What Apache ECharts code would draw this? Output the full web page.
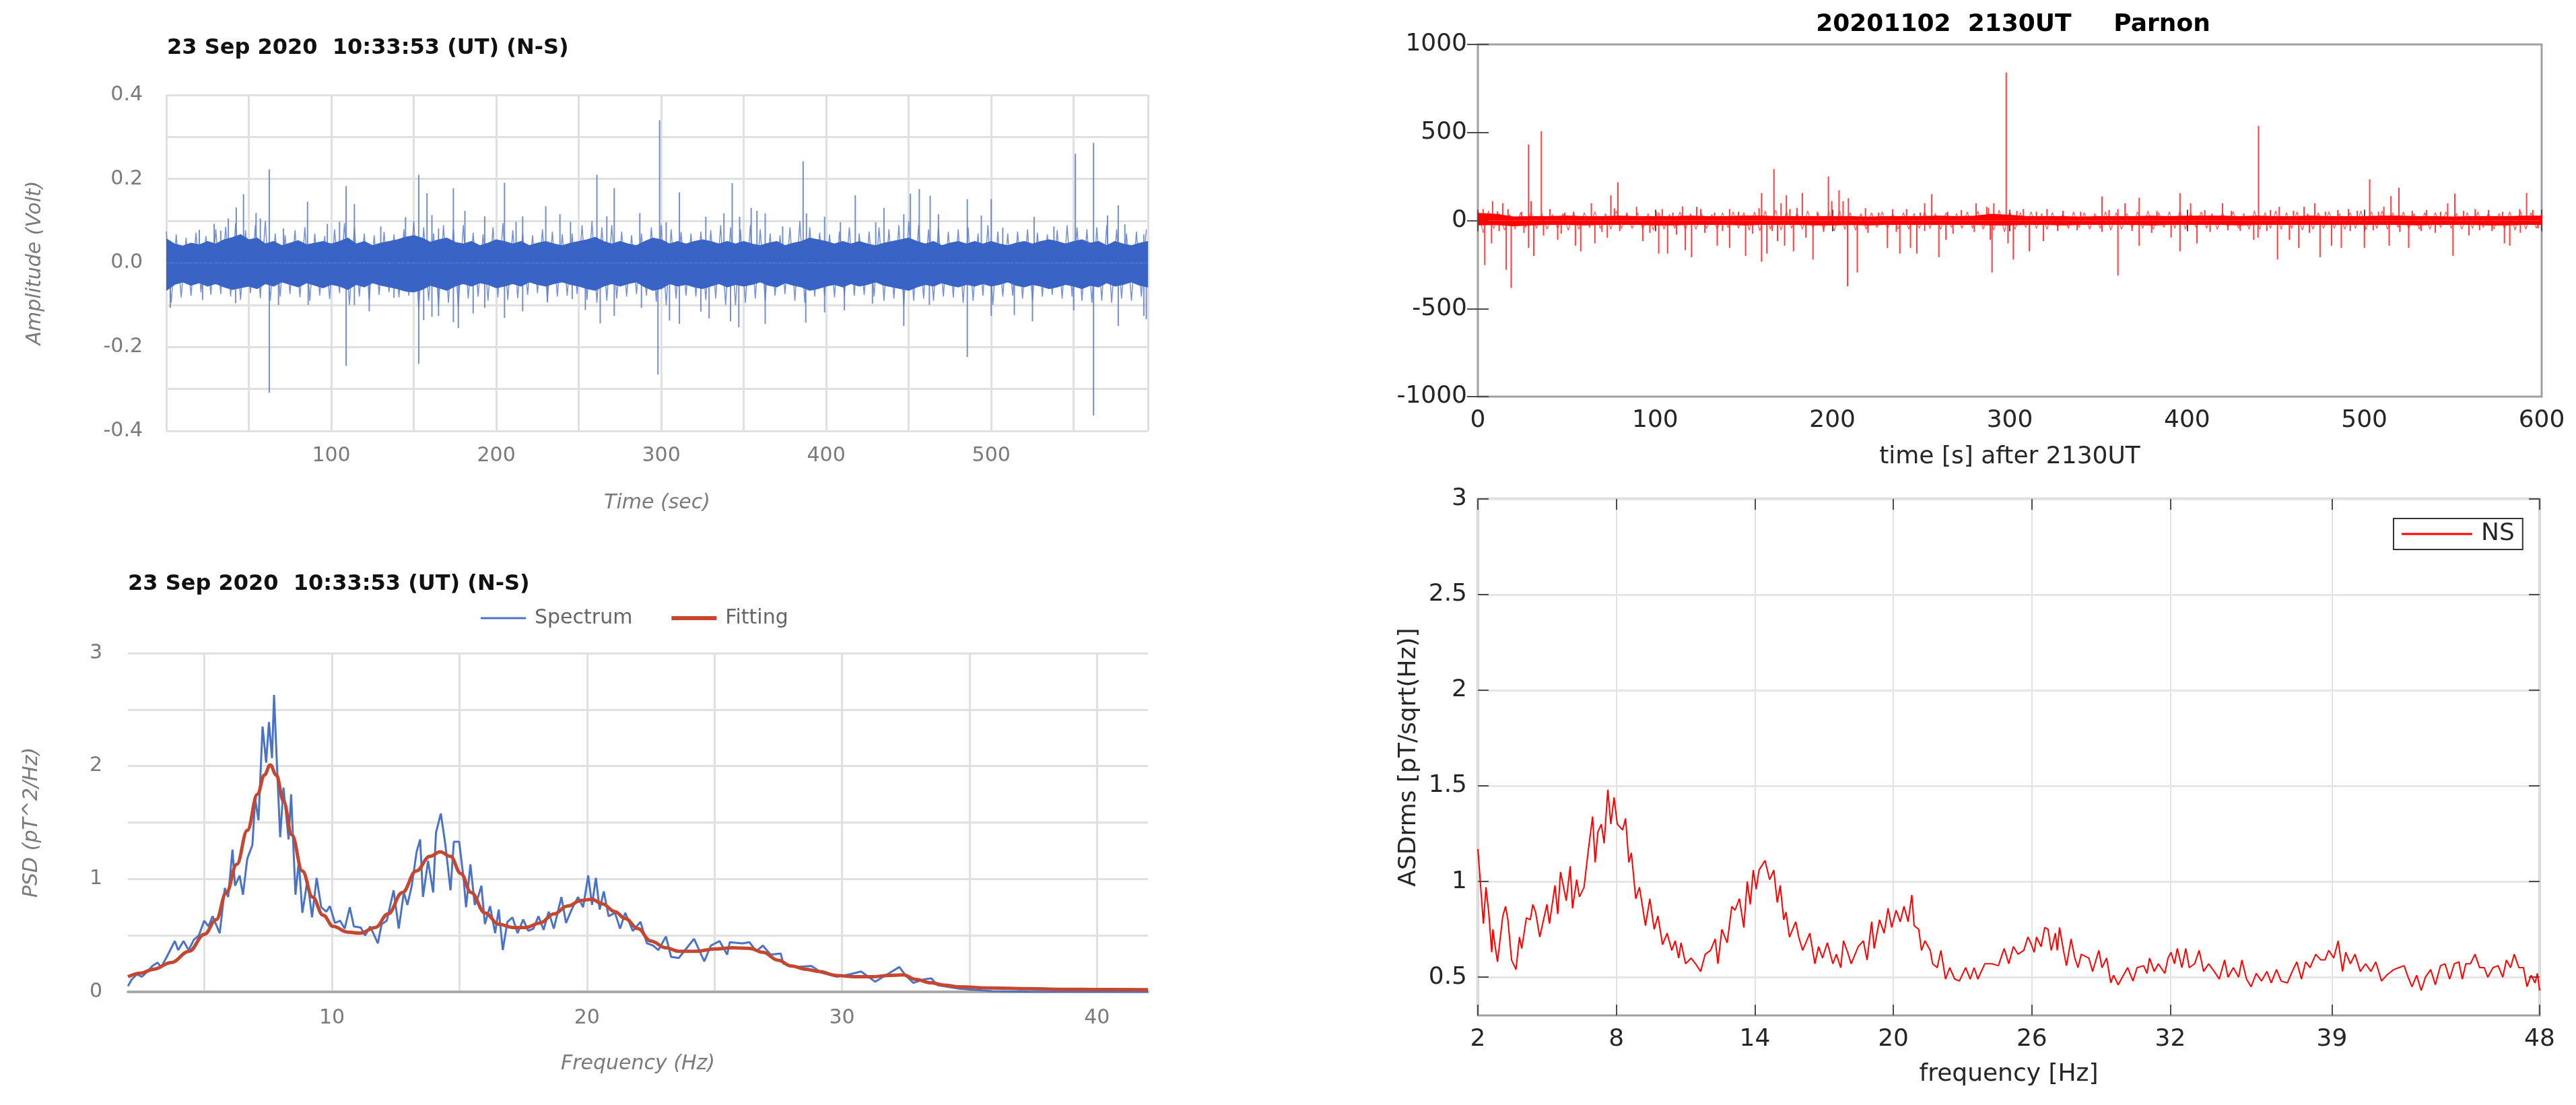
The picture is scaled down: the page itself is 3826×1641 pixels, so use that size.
<!DOCTYPE html>
<html>
<head>
<meta charset="utf-8">
<script src="https://cdn.jsdelivr.net/npm/echarts@6/dist/echarts.min.js"></script>
<style>html,body{margin:0;padding:0;background:#fff}#c{width:3826px;height:1641px}</style>
</head>
<body>
<div id="c"></div>
<script>
// ---------- Panel 1: amplitude time series (23 Sep 2020) ----------
const ampTime = [0,5,10,15,20,25,30,35,40,45,50,55,60,65,70,75,80,85,90,95,100,105,110,115,120,125,130,135,140,145,150,155,160,165,170,175,180,185,190,195,200,205,210,215,220,225,230,235,240,245,250,255,260,265,270,275,280,285,290,295,300,305,310,315,320,325,330,335,340,345,350,355,360,365,370,375,380,385,390,395,400,405,410,415,420,425,430,435,440,445,450,455,460,465,470,475,480,485,490,495,500,505,510,515,520,525,530,535,540,545,550,555,560,565,570,575,580,585,590,595];
const ampUpper = [0.057,0.045,0.040,0.047,0.043,0.051,0.045,0.055,0.060,0.067,
 0.055,0.059,0.045,0.051,0.041,0.047,0.053,0.043,0.047,0.051,
 0.045,0.051,0.059,0.045,0.051,0.041,0.047,0.051,0.055,0.061,
 0.065,0.059,0.049,0.055,0.059,0.049,0.045,0.051,0.041,0.047,
 0.055,0.051,0.045,0.051,0.041,0.047,0.051,0.045,0.041,0.047,
 0.051,0.055,0.061,0.051,0.045,0.051,0.045,0.041,0.051,0.059,
 0.055,0.045,0.051,0.045,0.051,0.055,0.051,0.045,0.051,0.045,
 0.051,0.045,0.041,0.047,0.051,0.041,0.047,0.051,0.059,0.055,
 0.051,0.045,0.051,0.045,0.051,0.045,0.041,0.047,0.051,0.055,
 0.059,0.051,0.045,0.051,0.041,0.047,0.051,0.045,0.051,0.045,
 0.051,0.045,0.041,0.047,0.051,0.045,0.051,0.055,0.051,0.045,
 0.051,0.055,0.047,0.051,0.041,0.051,0.045,0.041,0.047,0.051];
const ampLower = [-0.065,-0.051,-0.045,-0.053,-0.047,-0.055,-0.049,-0.057,-0.063,-0.059,
 -0.055,-0.061,-0.049,-0.055,-0.045,-0.051,-0.057,-0.047,-0.053,-0.059,
 -0.051,-0.055,-0.063,-0.051,-0.057,-0.047,-0.053,-0.057,-0.061,-0.067,
 -0.069,-0.063,-0.053,-0.059,-0.065,-0.055,-0.049,-0.055,-0.047,-0.051,
 -0.059,-0.055,-0.049,-0.055,-0.045,-0.051,-0.055,-0.049,-0.045,-0.051,
 -0.055,-0.061,-0.065,-0.055,-0.049,-0.055,-0.049,-0.045,-0.057,-0.065,
 -0.061,-0.049,-0.055,-0.051,-0.057,-0.061,-0.055,-0.049,-0.057,-0.051,
 -0.055,-0.051,-0.045,-0.053,-0.057,-0.047,-0.053,-0.057,-0.065,-0.061,
 -0.055,-0.051,-0.057,-0.049,-0.055,-0.051,-0.045,-0.053,-0.057,-0.061,
 -0.065,-0.057,-0.051,-0.055,-0.047,-0.053,-0.057,-0.051,-0.055,-0.049,
 -0.055,-0.051,-0.045,-0.053,-0.057,-0.051,-0.055,-0.061,-0.057,-0.051,
 -0.055,-0.061,-0.053,-0.057,-0.047,-0.055,-0.051,-0.045,-0.053,-0.057];
const ampTraceTime = [0,3,6,9,12,15,18,21,24,27,30,33,36,39,42,45,48,51,54,57,60,63,66,69,72,75,78,81,84,87,90,93,96,99,102,105,108,111,114,117,120,123,126,129,132,135,138,141,144,147,150,153,156,159,162,165,168,171,174,177,180,183,186,189,192,195,198,201,204,207,210,213,216,219,222,225,228,231,234,237,240,243,246,249,252,255,258,261,264,267,270,273,276,279,282,285,288,291,294,297,300,303,306,309,312,315,318,321,324,327,330,333,336,339,342,345,348,351,354,357,360,363,366,369,372,375,378,381,384,387,390,393,396,399,402,405,408,411,414,417,420,423,426,429,432,435,438,441,444,447,450,453,456,459,462,465,468,471,474,477,480,483,486,489,492,495,498,501,504,507,510,513,516,519,522,525,528,531,534,537,540,543,546,549,552,555,558,561,564,567,570,573,576,579,582,585,588,591,594];
const ampTraceValue = [0.075,-0.095,0.068,-0.082,0.06,-0.078,0.072,-0.07,0.064,-0.076,
 0.08,-0.074,0.086,-0.08,0.095,-0.088,0.078,-0.072,0.09,-0.084,
 0.1,-0.09,0.07,-0.08,0.066,-0.074,0.078,-0.082,0.085,-0.09,
 0.07,-0.078,0.064,-0.086,0.08,-0.072,0.095,-0.1,0.085,-0.08,
 0.07,-0.088,0.066,-0.076,0.074,-0.07,0.068,-0.082,0.08,-0.078,
 0.1,-0.11,0.085,-0.09,0.07,-0.1,0.09,-0.095,0.08,-0.105,
 0.09,-0.085,0.072,-0.08,0.068,-0.09,0.085,-0.082,0.095,-0.088,
 0.078,-0.084,0.07,-0.076,0.066,-0.072,0.08,-0.09,0.075,-0.08,
 0.068,-0.078,0.07,-0.074,0.09,-0.088,0.1,-0.095,0.085,-0.09,
 0.09,-0.085,0.075,-0.08,0.066,-0.074,0.07,-0.078,0.085,-0.092,
 0.09,-0.1,0.08,-0.085,0.074,-0.078,0.07,-0.08,0.075,-0.088,
 0.078,-0.085,0.09,-0.1,0.085,-0.1,0.08,-0.095,0.09,-0.085,
 0.08,-0.09,0.07,-0.078,0.066,-0.074,0.085,-0.09,0.1,-0.095,
 0.085,-0.08,0.072,-0.078,0.068,-0.082,0.075,-0.08,0.085,-0.078,
 0.07,-0.076,0.075,-0.08,0.085,-0.09,0.08,-0.085,0.09,-0.1,
 0.1,-0.09,0.09,-0.085,0.08,-0.09,0.085,-0.08,0.075,-0.082,
 0.08,-0.095,0.085,-0.09,0.07,-0.078,0.09,-0.1,0.075,-0.08,
 0.07,-0.078,0.075,-0.085,0.08,-0.09,0.072,-0.08,0.068,-0.076,
 0.078,-0.085,0.09,-0.08,0.085,-0.09,0.08,-0.095,0.085,-0.09,
 0.09,-0.095,0.08,-0.085,0.07,-0.09,0.075,-0.08,0.08];
const ampSpikeTime = [20,29,33,37.6,42.4,46.8,54.4,57,62.4,71,85.6,97.6,105,109,114,130,145,153,158,161,165,174,181,193,205,212,216,230,238.6,245,261,267,271.5,287,299,303,311,327,338,343,347.5,354.5,358,363,373.6,386,388,399,408.6,417.6,430,435,447,451,456.4,463,468,485.5,494,500,507,526,538,551,562,570.5,577,581,592.5,
 2.4,22,42,62.4,68,86,109,114,123,138,153,156,161,165,174,177,186,193,205,216,231,246,254,263,271.5,288,298,305,311,324,329,342,347,363,387.6,399,411,428,447,462.5,485.5,500,514,525,550,562,577,592.5,594];
const ampSpikeValue = [0.079,0.093,0.077,0.106,0.132,0.164,0.119,0.106,0.223,0.082,0.146,0.093,0.098,0.183,0.14,0.087,0.109,0.21,0.166,0.114,0.082,0.178,0.124,0.111,0.191,0.098,0.111,0.135,0.116,0.098,0.21,0.111,0.178,0.119,0.34,0.097,0.168,0.11,0.118,0.19,0.11,0.131,0.124,0.118,0.087,0.242,0.118,0.11,0.097,0.161,0.097,0.131,0.116,0.165,0.176,0.16,0.116,0.152,0.113,0.152,0.084,0.11,0.087,0.26,0.286,0.113,0.137,0.092,0.068,
 -0.107,-0.088,-0.096,-0.309,-0.10,-0.10,-0.245,-0.10,-0.115,-0.083,-0.24,-0.136,-0.128,-0.126,-0.141,-0.155,-0.12,-0.107,-0.131,-0.115,-0.094,-0.086,-0.112,-0.144,-0.126,-0.107,-0.266,-0.137,-0.145,-0.116,-0.132,-0.139,-0.153,-0.145,-0.142,-0.118,-0.113,-0.097,-0.15,-0.1,-0.224,-0.126,-0.124,-0.139,-0.113,-0.363,-0.15,-0.126,-0.134];

// ---------- Panel 2: PSD spectrum and fitting ----------
const specFreq = [2.0,2.15,2.35,2.55,2.76,2.96,3.16,3.3,3.5,3.84,3.97,4.18,4.38,4.58,4.78,4.99,5.16,5.32,5.6,5.8,5.93,6.1,6.2,6.38,6.51,6.68,6.88,6.99,7.12,7.28,7.42,7.53,7.65,7.73,7.84,7.97,8.1,8.3,8.4,8.57,8.7,8.84,9.04,9.22,9.4,9.58,9.78,9.92,10.12,10.32,10.5,10.7,10.86,11.13,11.3,11.5,11.8,11.95,12.15,12.42,12.62,12.82,12.96,13.13,13.32,13.46,13.57,13.77,13.97,14.08,14.27,14.45,14.65,14.78,14.99,15.16,15.26,15.43,15.6,15.73,15.86,16.0,16.2,16.4,16.54,16.7,16.88,17.08,17.28,17.5,17.7,17.9,18.1,18.3,18.5,18.7,19.0,19.18,19.4,19.65,19.85,20.05,20.2,20.35,20.5,20.66,20.85,21.1,21.3,21.5,21.8,22.1,22.35,22.6,22.8,23.1,23.3,23.6,24.2,24.6,24.86,25.2,25.5,25.6,26.1,26.37,26.64,26.9,27.2,27.6,27.7,28.25,28.8,29.2,29.8,30.3,30.75,31.3,31.7,32.25,32.5,32.8,33.2,33.5,33.75,34.6,35.9,37.3,40.0,42.0];
const specValue = [0.05,0.11,0.155,0.134,0.18,0.23,0.26,0.22,0.30,0.45,0.37,0.45,0.37,0.46,0.50,0.63,0.58,0.67,0.52,0.92,0.84,1.26,0.94,1.03,0.86,1.18,1.30,1.71,1.52,2.35,2.03,2.39,2.07,2.63,2.03,1.37,1.81,1.35,1.75,0.86,1.16,0.70,0.99,0.66,1.01,0.75,0.71,0.76,0.61,0.63,0.56,0.75,0.58,0.57,0.50,0.58,0.43,0.60,0.63,0.90,0.56,0.88,0.77,0.94,1.24,1.35,0.84,1.16,0.88,1.41,1.58,1.30,0.90,1.33,1.33,1.01,0.75,1.13,0.77,0.84,0.94,0.60,0.76,0.52,0.73,0.37,0.62,0.66,0.52,0.64,0.54,0.56,0.67,0.55,0.71,0.56,0.84,0.61,0.73,0.84,0.75,1.03,0.77,1.01,0.73,0.89,0.67,0.70,0.56,0.70,0.54,0.62,0.43,0.41,0.37,0.49,0.31,0.30,0.47,0.27,0.41,0.45,0.33,0.44,0.43,0.44,0.36,0.41,0.33,0.34,0.25,0.22,0.23,0.17,0.134,0.155,0.18,0.09,0.145,0.22,0.145,0.08,0.11,0.12,0.06,0.028,0.006,0.002,0.0,0.0];
const fitFreq = [2.0,2.5,3.0,3.7,4.4,5.0,5.46,5.86,6.27,6.68,7.08,7.35,7.58,7.82,8.1,8.43,8.84,9.24,9.65,10.05,10.6,11.1,11.7,12.2,12.76,13.3,13.84,14.24,14.65,15.05,15.46,16.0,16.54,17.1,17.6,18.16,18.7,19.24,19.78,20.2,20.6,21.1,21.5,22.0,22.5,23.1,23.6,24.3,25.0,25.7,26.4,26.9,27.5,28.0,28.6,29.1,29.8,30.5,31.2,31.8,32.4,32.9,33.5,34.0,34.6,35.9,37.3,38.7,40.0,42.0];
const fitValue = [0.134,0.166,0.20,0.26,0.36,0.51,0.64,0.88,1.13,1.43,1.75,1.92,2.01,1.92,1.69,1.39,1.07,0.84,0.68,0.58,0.53,0.52,0.57,0.69,0.88,1.07,1.20,1.24,1.20,1.05,0.88,0.70,0.60,0.57,0.57,0.61,0.69,0.76,0.81,0.82,0.78,0.71,0.65,0.56,0.45,0.39,0.36,0.36,0.38,0.39,0.385,0.35,0.28,0.23,0.20,0.18,0.145,0.134,0.134,0.145,0.15,0.11,0.08,0.06,0.045,0.034,0.028,0.023,0.021,0.019];
const psdXGrid = [5,10,15,20,25,30,35,40];
const psdXLabels = [10,20,30,40];

// ---------- Panel 3: Parnon time series ----------
const parTime = [0,10,20,30,40,50,60,70,80,90,100,110,120,130,140,150,160,170,180,190,200,210,220,230,240,250,260,270,280,290,300,310,320,330,340,350,360,370,380,390,400,410,420,430,440,450,460,470,480,490,500,510,520,530,540,550,560,570,580,590,600];
const parUpper = [40,35,20,22,22,25,22,22,25,22, 22,22,25,22,22,25,25,22,22,22, 22,22,20,22,22,22,25,22,25,35, 30,22,22,22,20,22,22,22,25,22, 25,25,25,22,25,22,22,25,22,22, 22,25,25,22,22,20,22,22,22,25,25];
const parLower = [-25,-22,-30,-25,-22,-22,-25,-22,-22,-22, -25,-25,-22,-22,-22,-25,-22,-22,-22,-25, -25,-22,-25,-22,-22,-22,-22,-22,-22,-25, -25,-22,-22,-25,-22,-22,-22,-22,-25,-22, -22,-22,-22,-25,-22,-22,-22,-22,-22,-22, -22,-22,-22,-25,-22,-22,-22,-25,-25,-22,-22];
const parTraceTime = [0,3,6,9,12,15,18,21,24,27,30,33,36,39,42,45,48,51,54,57,60,63,66,69,72,75,78,81,84,87,90,93,96,99,102,105,108,111,114,117,120,123,126,129,132,135,138,141,144,147,150,153,156,159,162,165,168,171,174,177,180,183,186,189,192,195,198,201,204,207,210,213,216,219,222,225,228,231,234,237,240,243,246,249,252,255,258,261,264,267,270,273,276,279,282,285,288,291,294,297,300,303,306,309,312,315,318,321,324,327,330,333,336,339,342,345,348,351,354,357,360,363,366,369,372,375,378,381,384,387,390,393,396,399,402,405,408,411,414,417,420,423,426,429,432,435,438,441,444,447,450,453,456,459,462,465,468,471,474,477,480,483,486,489,492,495,498,501,504,507,510,513,516,519,522,525,528,531,534,537,540,543,546,549,552,555,558,561,564,567,570,573,576,579,582,585,588,591,594,597,600];
const parTraceValue = [60,-70,55,-45,40,-55,35,-50,45,-40,
 50,-45,40,-50,35,-45,40,-55,45,-50,
 45,-40,50,-45,40,-50,55,-45,40,-45,
 45,-50,40,-55,45,-50,35,-45,50,-55,
 40,-50,45,-45,35,-50,45,-40,50,-45,
 45,-55,50,-60,55,-50,60,-55,50,-45,
 45,-50,55,-45,40,-55,50,-60,55,-50,
 45,-55,40,-50,45,-40,50,-45,40,-50,
 45,-50,40,-45,50,-45,40,-50,45,-40,
 40,-45,50,-45,55,-50,45,-55,60,-65,
 55,-50,45,-40,50,-45,40,-50,45,-40,
 40,-45,50,-40,45,-50,40,-45,50,-55,
 45,-50,40,-45,50,-45,55,-50,45,-40,
 50,-45,55,-50,45,-40,50,-45,40,-50,
 45,-40,50,-45,40,-50,55,-50,45,-45,
 55,-50,45,-45,50,-55,40,-50,45,-45,
 50,-45,40,-50,45,-45,55,-50,50,-45,
 55,-50,45,-40,50,-45,40,-50,45,-50,
 45,-40,50,-45,40,-50,45,-45,50,-40,
 45,-50,40,-45,50,-55,55,-50,45,-45,
 40];
const parSpikeTime = [3,8.3,11,14,17,24.6,28.6,30,35.8,40.6,49,54,64,75,77,79,84,89.5,100.6,104,110,115.5,123.4,125.7,133.5,142,147,158.6,160,167,171,174,176,180,183,191.5,197.7,199.6,203.7,206,209,218.6,226,234,241.8,249.5,252,256,265,272.7,281,287,288,291,298,
 304,307.7,315,321,330,340,352,356,361,365,373,383,396,402,410,420,425,440.3,447,452,460,466,472,478,485,491,496,503,508,511,515,519.5,527,535,543,547,551,556,562.5,570,578,587.6,591.5,595,
 3.9,7.7,12,16,18.8,26,28.6,31.5,37,45,47,55,58,66,70,73,80,93,97,102,107,112,117,120.5,128,135,138,142,151,155,160,163,166,169,173,178,185,189,195,208.5,214,220,231,236,238,244,247.6,252,260,264,268,280,289,290,
 299,302,311,319,327,338,352,361,369,373,380,391,396,405.6,413,423,430,437.6,440,445,451,457.7,463,469,475,481.5,487,492,500,505,514,520,525,532,540,550,559,565,572,579,582,588,598];
const parSpikeValue = [65,110,52,98,65,50,432,110,507,65,45,50,98,143,70,217,45,78,50,65,45,80,78,65,45,65,50,70,156,292,98,143,65,72,156,50,250,110,172,110,127,70,45,65,65,45,98,150,50,60,98,78,72,98,841,
 55,65,50,65,55,50,137,60,65,98,130,55,156,98,60,98,55,537,60,78,55,78,98,50,60,65,55,234,50,78,139,186,55,60,50,98,153,55,65,60,50,65,156,60,
 -253,-130,-60,-280,-383,-70,-156,-201,-85,-110,-75,-143,-175,-130,-65,-97,-60,-117,-70,-188,-188,-80,-169,-208,-70,-143,-60,-156,-201,-75,-234,-188,-60,-117,-143,-175,-97,-221,-65,-373,-295,-70,-156,-65,-188,-156,-188,-60,-208,-110,-75,-65,-110,-295,
 -130,-221,-175,-117,-60,-55,-65,-312,-60,-143,-70,-97,-175,-130,-65,-55,-60,-110,-97,-60,-221,-110,-156,-70,-208,-143,-156,-60,-156,-55,-143,-65,-156,-60,-70,-201,-85,-55,-60,-130,-143,-70,-45];

// ---------- Panel 4: ASDrms spectrum (NS) ----------
const asdFreq = [2.0,2.24,2.35,2.47,2.6,2.65,2.75,2.85,3.08,3.2,3.3,3.46,3.65,3.8,3.9,4.1,4.27,4.38,4.5,4.68,4.99,5.1,5.34,5.46,5.58,5.83,6.0,6.1,6.28,6.4,6.6,6.79,6.97,7.08,7.2,7.35,7.47,7.63,7.76,7.9,8.04,8.27,8.4,8.54,8.65,8.84,9.0,9.26,9.45,9.64,9.8,10.0,10.2,10.4,10.55,10.7,10.8,11.0,11.24,11.43,11.65,11.85,12.08,12.28,12.4,12.57,12.8,13.0,13.14,13.33,13.52,13.67,13.8,13.93,14.06,14.18,14.44,14.64,14.82,14.97,15.1,15.25,15.35,15.5,15.77,15.9,16.07,16.38,16.6,16.76,16.93,17.14,17.38,17.53,17.72,17.84,18.02,18.17,18.48,18.7,18.86,19.06,19.17,19.4,19.6,19.77,19.93,20.12,20.3,20.46,20.64,20.8,20.9,21.1,21.22,21.37,21.6,21.7,21.9,22.06,22.26,22.44,22.66,22.86,23.13,23.33,23.5,23.66,23.96,24.27,24.55,24.8,25.0,25.2,25.4,
 25.65,25.83,25.95,26.1,26.2,26.4,26.56,26.7,26.84,27.02,27.1,27.2,27.37,27.5,27.7,27.86,28.0,28.14,28.47,28.63,28.9,29.04,29.24,29.42,29.54,29.74,29.92,30.15,30.38,30.56,30.84,30.99,31.1,31.3,31.48,31.76,31.9,32.03,32.18,32.3,32.5,32.67,32.82,33.05,33.25,33.44,33.66,33.9,34.12,34.35,34.5,34.73,34.96,35.1,35.3,35.5,35.72,35.95,36.18,36.37,36.6,36.8,37.07,37.28,37.48,37.68,37.86,38.05,38.3,38.52,38.7,38.86,39.08,39.27,39.46,39.6,39.8,40.0,40.23,40.46,40.69,40.9,41.15,41.37,41.68,41.9,42.13,42.3,42.47,42.67,42.87,43.05,43.28,43.48,43.7,43.9,44.1,44.3,44.5,44.65,44.8,45.0,45.2,45.4,45.6,45.75,45.98,46.2,46.4,46.56,46.74,46.9,47.1,47.3,47.45,47.63,47.8,47.9,48.0];
const asdValue = [1.17,0.78,0.97,0.84,0.63,0.75,0.66,0.58,0.82,0.87,0.80,0.59,0.54,0.71,0.65,0.81,0.80,0.88,0.84,0.71,0.88,0.78,0.98,0.83,1.05,0.90,1.08,0.86,1.01,0.92,0.97,1.17,1.34,1.10,1.26,1.30,1.20,1.48,1.30,1.44,1.30,1.27,1.33,1.10,1.15,0.91,0.97,0.77,0.91,0.75,0.82,0.67,0.73,0.64,0.69,0.60,0.68,0.57,0.60,0.57,0.53,0.62,0.64,0.70,0.57,0.75,0.68,0.87,0.85,0.91,0.76,1.00,0.88,1.06,0.96,1.06,1.11,1.01,1.06,0.89,0.98,0.80,0.84,0.71,0.79,0.71,0.64,0.73,0.57,0.66,0.60,0.68,0.57,0.62,0.55,0.69,0.63,0.57,0.66,0.69,0.59,0.79,0.65,0.80,0.73,0.86,0.76,0.85,0.79,0.87,0.79,0.93,0.77,0.75,0.64,0.69,0.64,0.57,0.55,0.64,0.49,0.55,0.49,0.48,0.55,0.49,0.55,0.49,0.57,0.57,0.56,0.65,0.57,0.66,0.62,
 0.64,0.71,0.68,0.63,0.71,0.66,0.76,0.75,0.64,0.73,0.64,0.76,0.64,0.56,0.70,0.60,0.55,0.62,0.60,0.53,0.64,0.55,0.60,0.47,0.51,0.46,0.50,0.55,0.48,0.55,0.56,0.52,0.60,0.53,0.57,0.52,0.60,0.63,0.57,0.65,0.55,0.65,0.55,0.57,0.64,0.53,0.57,0.53,0.49,0.59,0.50,0.55,0.50,0.59,0.49,0.45,0.52,0.48,0.53,0.47,0.54,0.48,0.47,0.53,0.58,0.49,0.58,0.55,0.62,0.59,0.59,0.64,0.60,0.69,0.53,0.63,0.57,0.62,0.53,0.57,0.53,0.58,0.48,0.51,0.54,0.55,0.56,0.50,0.45,0.51,0.43,0.50,0.54,0.46,0.56,0.57,0.49,0.57,0.58,0.49,0.57,0.57,0.62,0.55,0.55,0.50,0.55,0.56,0.50,0.59,0.55,0.62,0.55,0.55,0.45,0.51,0.47,0.52,0.43];
const asdXTicks = [2,8,14,20,26,32,39,48];
const asdYTicks = [0.5,1,1.5,2,2.5,3];

// ---------- build chart ----------
const zip = (a, b) => a.map((v, i) => [v, b[i]]);
const FL = 'DejaVu Sans';
const leftLabel = {fontFamily: FL, fontSize: 30, color: '#7a7a7a'};
const leftName = {fontFamily: FL, fontSize: 30, color: '#7a7a7a', fontStyle: 'italic'};
const rightLabel = {fontFamily: FL, fontSize: 36, color: '#262626'};
const gridLineL = {show: true, lineStyle: {color: '#e0e0e0', width: 3}};
const tickIn = {show: true, inside: true, length: 16, lineStyle: {color: '#4d4d4d', width: 2}};

const chart = echarts.init(document.getElementById('c'), null, {renderer: 'canvas', width: 3826, height: 1641});
chart.setOption({
  animation: false,
  backgroundColor: '#ffffff',
  title: [
    {text: '23 Sep 2020  10:33:53 (UT) (N-S)', left: 243, top: 51, textStyle: {fontFamily: FL, fontSize: 32, fontWeight: 'bold', color: '#111'}},
    {text: '23 Sep 2020  10:33:53 (UT) (N-S)', left: 185, top: 847, textStyle: {fontFamily: FL, fontSize: 32, fontWeight: 'bold', color: '#111'}},
    {text: '20201102  2130UT     Parnon', left: 2985, textAlign: 'center', top: 14, textStyle: {fontFamily: FL, fontSize: 36, fontWeight: 'bold', color: '#000'}}
  ],
  legend: [
    {data: [{name: 'Spectrum', icon: 'path://M0,0H67V3H0Z'}, {name: 'Fitting', icon: 'path://M0,0H67V6H0Z'}],
     left: 709, top: 898, itemWidth: 67, itemHeight: 6, itemGap: 58,
     textStyle: {fontFamily: FL, fontSize: 30, color: '#666', padding: [0, 0, 0, 8]}},
    {data: [{name: 'NS', icon: 'path://M0,0H105V3H0Z'}], left: 3555, top: 770, itemWidth: 105, itemHeight: 3, padding: [5, 12, 5, 12],
     borderColor: '#333', borderWidth: 2, backgroundColor: '#fff',
     textStyle: {fontFamily: FL, fontSize: 36, color: '#262626', padding: [0, 0, 0, 8]}}
  ],
  grid: [
    {left: 247, top: 141, width: 1458, height: 499},
    {left: 190, top: 970, width: 1515, height: 503},
    {left: 2195, top: 66, width: 1580, height: 523, show: true, borderColor: '#a0a0a0', borderWidth: 3},
    {left: 2195, top: 741, width: 1577, height: 767, show: true, borderColor: '#a0a0a0', borderWidth: 3}
  ],
  xAxis: [
    {gridIndex: 0, type: 'value', min: 0, max: 595, interval: 50,
     axisLine: {show: false}, axisTick: {show: false},
     axisLabel: Object.assign({margin: 22, formatter: v => (v > 0 && v % 100 === 0) ? String(v) : ''}, leftLabel),
     splitLine: gridLineL,
     name: 'Time (sec)', nameLocation: 'middle', nameGap: 92, nameTextStyle: leftName},
    {gridIndex: 1, type: 'value', min: 2, max: 42,
     axisLine: {show: true, lineStyle: {color: '#a8a8a8', width: 4}},
     axisTick: {show: false, customValues: psdXGrid},
     axisLabel: Object.assign({margin: 24, customValues: psdXLabels}, leftLabel),
     splitLine: gridLineL,
     name: 'Frequency (Hz)', nameLocation: 'middle', nameGap: 92, nameTextStyle: leftName},
    {gridIndex: 2, type: 'value', min: 0, max: 600, interval: 100, position: 'bottom',
     axisLine: {show: false}, axisTick: tickIn,
     axisLabel: Object.assign({margin: 18, formatter: v => String(v)}, rightLabel), splitLine: {show: false},
     name: 'time [s] after 2130UT', nameLocation: 'middle', nameGap: 72, nameTextStyle: {fontFamily: FL, fontSize: 36, color: '#262626'}},
    {gridIndex: 2, type: 'value', min: 0, max: 600, interval: 100, position: 'top',
     axisLine: {show: false}, axisTick: tickIn, axisLabel: {show: false}, splitLine: {show: false}},
    {gridIndex: 3, type: 'value', min: 2, max: 48, position: 'bottom',
     axisLine: {show: false}, axisTick: Object.assign({customValues: asdXTicks}, tickIn),
     axisLabel: Object.assign({margin: 18, customValues: asdXTicks}, rightLabel),
     splitLine: {show: true, lineStyle: {color: '#e3e3e3', width: 2}},
     name: 'frequency [Hz]', nameLocation: 'middle', nameGap: 70, nameTextStyle: {fontFamily: FL, fontSize: 36, color: '#262626'}},
    {gridIndex: 3, type: 'value', min: 2, max: 48, position: 'top',
     axisLine: {show: false}, axisTick: Object.assign({customValues: asdXTicks}, tickIn), axisLabel: {show: false}, splitLine: {show: false}}
  ],
  yAxis: [
    {gridIndex: 0, type: 'value', min: -0.4, max: 0.4, interval: 0.1,
     axisLine: {show: false}, axisTick: {show: false},
     axisLabel: Object.assign({margin: 35, formatter: v => (Math.round(v * 10) % 2 === 0) ? (Math.round(v * 10) / 10).toFixed(1) : ''}, leftLabel),
     splitLine: gridLineL,
     name: 'Amplitude (Volt)', nameLocation: 'middle', nameGap: 180, nameTextStyle: leftName},
    {gridIndex: 1, type: 'value', min: 0, max: 3, interval: 0.5,
     axisLine: {show: false}, axisTick: {show: false},
     axisLabel: Object.assign({margin: 38, formatter: v => Number.isInteger(v) ? String(v) : ''}, leftLabel),
     splitLine: gridLineL,
     name: 'PSD (pT^2/Hz)', nameLocation: 'middle', nameGap: 128, nameTextStyle: leftName},
    {gridIndex: 2, type: 'value', min: -1000, max: 1000, interval: 500, position: 'left',
     axisLine: {show: false}, axisTick: tickIn, axisLabel: Object.assign({margin: 16, formatter: v => String(v)}, rightLabel), splitLine: {show: false}},
    {gridIndex: 2, type: 'value', min: -1000, max: 1000, interval: 500, position: 'right',
     axisLine: {show: false}, axisTick: tickIn, axisLabel: {show: false}, splitLine: {show: false}},
    {gridIndex: 3, type: 'value', min: 0.3, max: 3, position: 'left',
     axisLine: {show: false}, axisTick: Object.assign({customValues: asdYTicks}, tickIn),
     axisLabel: Object.assign({margin: 16, customValues: asdYTicks}, rightLabel),
     splitLine: {show: true, lineStyle: {color: '#e6e6e6', width: 3}},
     name: 'ASDrms [pT/sqrt(Hz)]', nameLocation: 'middle', nameGap: 84, nameTextStyle: {fontFamily: FL, fontSize: 36, color: '#262626'}},
    {gridIndex: 3, type: 'value', min: 0.3, max: 3, position: 'right',
     axisLine: {show: false}, axisTick: Object.assign({customValues: asdYTicks}, tickIn), axisLabel: {show: false}, splitLine: {show: false}}
  ],
  series: [
    {type: 'bar', name: 'ampSpikes', xAxisIndex: 0, yAxisIndex: 0, barWidth: 2, z: 2,
     itemStyle: {color: '#6683c2', opacity: 0.9}, data: zip(ampSpikeTime, ampSpikeValue)},
    {type: 'line', name: 'ampTrace', xAxisIndex: 0, yAxisIndex: 0, symbol: 'none', z: 2,
     lineStyle: {color: '#5a7ecb', width: 1.5, opacity: 0.85}, data: zip(ampTraceTime, ampTraceValue)},
    {type: 'line', name: 'ampUp', xAxisIndex: 0, yAxisIndex: 0, symbol: 'none', z: 3,
     lineStyle: {color: '#3964c6', width: 1.5}, areaStyle: {color: '#3964c6', opacity: 1}, data: zip(ampTime, ampUpper)},
    {type: 'line', name: 'ampLow', xAxisIndex: 0, yAxisIndex: 0, symbol: 'none', z: 3,
     lineStyle: {color: '#3964c6', width: 1.5}, areaStyle: {color: '#3964c6', opacity: 1}, data: zip(ampTime, ampLower)},

    {type: 'line', name: 'Spectrum', xAxisIndex: 1, yAxisIndex: 1, symbol: 'none', z: 3,
     itemStyle: {color: '#4a73c6'}, lineStyle: {color: '#4a73c6', width: 3}, data: zip(specFreq, specValue)},
    {type: 'line', name: 'Fitting', xAxisIndex: 1, yAxisIndex: 1, symbol: 'none', z: 4, smooth: 0.4, smoothMonotone: 'x',
     itemStyle: {color: '#c5472f'}, lineStyle: {color: '#c5472f', width: 5}, data: zip(fitFreq, fitValue)},

    {type: 'bar', name: 'parSpikes', xAxisIndex: 2, yAxisIndex: 2, barWidth: 2, z: 2,
     itemStyle: {color: '#ff2a2a', opacity: 0.9}, data: zip(parSpikeTime, parSpikeValue)},
    {type: 'line', name: 'parTrace', xAxisIndex: 2, yAxisIndex: 2, symbol: 'none', z: 2,
     lineStyle: {color: '#ff3b3b', width: 1.3, opacity: 0.8}, data: zip(parTraceTime, parTraceValue)},
    {type: 'line', name: 'parUp', xAxisIndex: 2, yAxisIndex: 2, symbol: 'none', z: 3,
     lineStyle: {color: '#ff0000', width: 1.5}, areaStyle: {color: '#ff0000', opacity: 1}, data: zip(parTime, parUpper)},
    {type: 'line', name: 'parLow', xAxisIndex: 2, yAxisIndex: 2, symbol: 'none', z: 3,
     lineStyle: {color: '#ff0000', width: 1.5}, areaStyle: {color: '#ff0000', opacity: 1}, data: zip(parTime, parLower)},

    {type: 'line', name: 'NS', xAxisIndex: 4, yAxisIndex: 4, symbol: 'none', z: 3,
     itemStyle: {color: '#ff0000'}, lineStyle: {color: '#ff0000', width: 2}, data: zip(asdFreq, asdValue)}
  ]
});
</script>
</body>
</html>
